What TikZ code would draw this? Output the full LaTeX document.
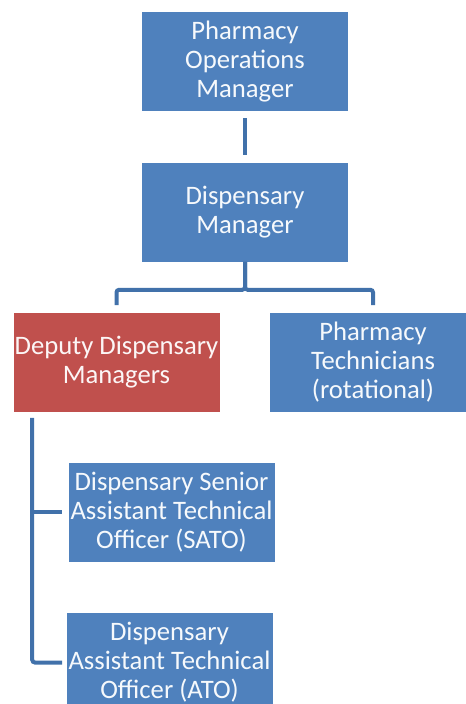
\documentclass[tikz,border=0pt]{standalone}
\usepackage{fontspec}
\setmainfont{Carlito}
\definecolor{orgblue}{RGB}{79,129,189}
\definecolor{orgred}{RGB}{192,80,77}
\definecolor{orgline}{RGB}{65,113,170}
\usetikzlibrary{positioning}

\begin{document}
\begin{tikzpicture}[x=0.75pt, y=-0.75pt,
    post/.style={fill=orgblue, text=white!95!orgblue, minimum width=154.5pt, minimum height=74.25pt,
      inner sep=0pt, align=center, font=\fontsize{20}{21.75}\selectfont},
    deputy/.style={post, fill=orgred, text=white!95!orgred},
    conn/.style={draw=orgline, line width=3pt, rounded corners=2pt}]
  \useasboundingbox (0,0) rectangle (466,704);

  % Management
  \node[post] (pom) at (245,61.5) {Pharmacy\\Operations\\Manager};
  \node[post] (dm) at (245,212) {Dispensary\\Manager};

  % Second level
  \node[deputy] (ddm) at (116.5,362) {Deputy Dispensary\\Managers};
  \node[post] (tech) at (373,362) {Pharmacy\\Technicians\\(rotational)};

  % Officers
  \node[post] (sato) at (171.5,512) {Dispensary Senior\\Assistant Technical\\Officer (SATO)};
  \node[post] (ato) at (169.5,662.5) {Dispensary\\Assistant Technical\\Officer (ATO)};

  % Connectors
  \draw[conn, shorten <=5.25pt, shorten >=5.25pt] (pom) -- (dm);
  \draw[conn] (dm.south) -- ++(0,28) -| ([yshift=5.25pt]ddm.north);
  \draw[conn] (dm.south) -- ++(0,28) -| ([yshift=5.25pt]tech.north);
  \draw[conn] ([xshift=14.25pt, yshift=-4.5pt]ddm.south west) |- ([xshift=-3pt]ato.west);
  \draw[conn] ([xshift=14.25pt]ddm.south west |- sato.west) -- ([xshift=-4.5pt]sato.west);
\end{tikzpicture}
\end{document}
